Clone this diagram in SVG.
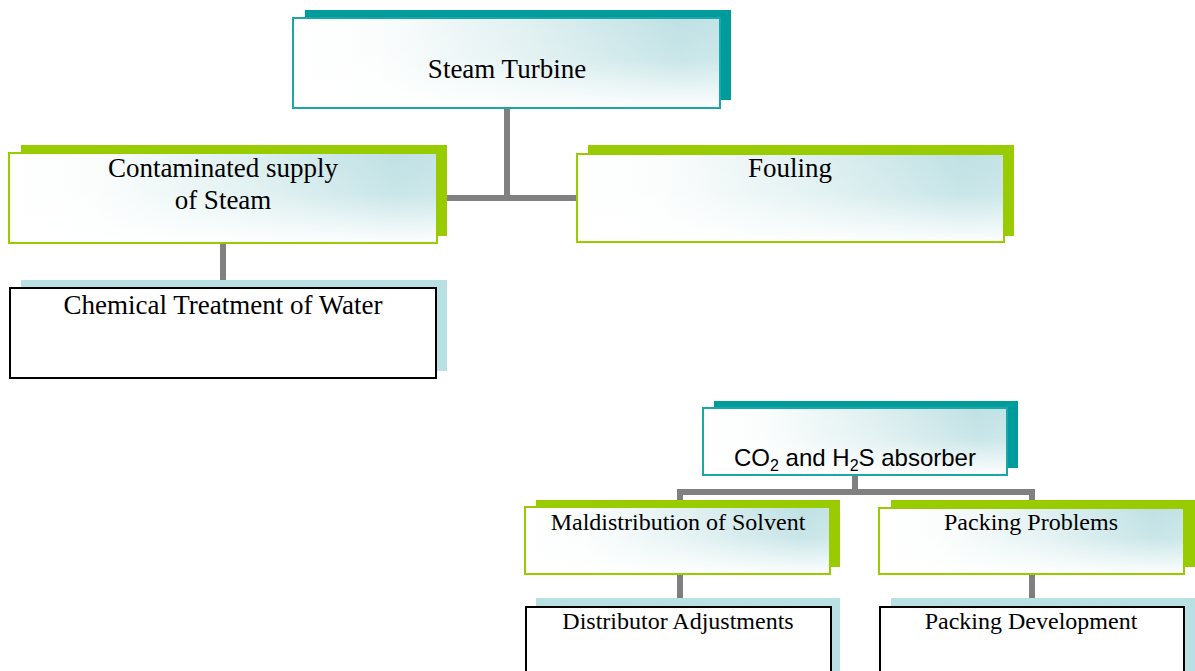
<svg xmlns="http://www.w3.org/2000/svg" width="1195" height="671" viewBox="0 0 1195 671">
  <defs>
    <!-- card fill: white on the left, pale teal toward the right -->
    <linearGradient id="tint" x1="0" y1="0" x2="1" y2="0">
      <stop offset="0" stop-color="#ffffff"/>
      <stop offset="0.2" stop-color="#fbfdfd"/>
      <stop offset="0.55" stop-color="#e0f0f1"/>
      <stop offset="0.9" stop-color="#bfe1e4"/>
      <stop offset="1" stop-color="#c4e3e6"/>
    </linearGradient>
    <!-- white wash that fades the lower part of each card -->
    <linearGradient id="wash" x1="0" y1="0" x2="0" y2="1">
      <stop offset="0" stop-color="#ffffff" stop-opacity="0"/>
      <stop offset="0.45" stop-color="#ffffff" stop-opacity="0.15"/>
      <stop offset="1" stop-color="#ffffff" stop-opacity="0.97"/>
    </linearGradient>
  </defs>
  <style>
    .bg { fill: #ffffff; }
    .sh-teal { fill: #009b9b; }
    .sh-green { fill: #99cc00; }
    .sh-blue { fill: #b9e0e3; }
    .tint { fill: url(#tint); }
    .wash { fill: url(#wash); }
    .edge-teal { fill: none; stroke: #1aa7a7; stroke-width: 2; }
    .edge-green { fill: none; stroke: #99cc00; stroke-width: 2; }
    .card-plain { fill: #ffffff; stroke: #000000; stroke-width: 2; }
    .serif { font-family: "Liberation Serif", "Times New Roman", serif; fill: #000000; text-anchor: middle; }
    .big { font-size: 27px; }
    .small { font-size: 24px; }
    .sans { font-family: "Liberation Sans", Arial, sans-serif; font-size: 24px; fill: #000000; text-anchor: middle; }
    .link { fill: none; stroke: #808080; stroke-width: 6; }
  </style>
  <rect class="bg" x="0" y="0" width="1195" height="671"/>

  <!-- connectors -->
  <g id="connectors">
    <path class="link" d="M507 108 V198 M437 198 H577"/>
    <path class="link" d="M223 243 V281"/>
    <path class="link" d="M855 475 V492 M680 500 V492 H1032 V500"/>
    <path class="link" d="M680 574 V599"/>
    <path class="link" d="M1032 574 V599"/>
  </g>

  <g id="steam-turbine">
    <rect class="sh-teal" x="305" y="10" width="426" height="90"/>
    <rect class="tint" x="293" y="18" width="427" height="90"/>
    <rect class="wash" x="293" y="18" width="427" height="90"/>
    <rect class="edge-teal" x="293" y="18" width="427" height="90"/>
    <text class="serif big" x="507" y="78">Steam Turbine</text>
  </g>

  <g id="contaminated-steam">
    <rect class="sh-green" x="21" y="145" width="426" height="91"/>
    <rect class="tint" x="9" y="153" width="428" height="90"/>
    <rect class="wash" x="9" y="153" width="428" height="90"/>
    <rect class="edge-green" x="9" y="153" width="428" height="90"/>
    <text class="serif big" x="223" y="177">Contaminated supply</text>
    <text class="serif big" x="223" y="209">of Steam</text>
  </g>

  <g id="fouling">
    <rect class="sh-green" x="588" y="145" width="426" height="91"/>
    <rect class="tint" x="577" y="154" width="427" height="88"/>
    <rect class="wash" x="577" y="154" width="427" height="88"/>
    <rect class="edge-green" x="577" y="154" width="427" height="88"/>
    <text class="serif big" x="790" y="177">Fouling</text>
  </g>

  <g id="chemical-treatment">
    <rect class="sh-blue" x="21" y="280" width="426" height="91"/>
    <rect class="card-plain" x="10" y="288" width="426" height="90"/>
    <text class="serif big" x="223" y="314">Chemical Treatment of Water</text>
  </g>

  <g id="absorber">
    <rect class="sh-teal" x="714" y="401" width="304" height="67"/>
    <rect class="tint" x="703" y="408" width="304" height="67"/>
    <rect class="wash" x="703" y="408" width="304" height="67"/>
    <rect class="edge-teal" x="703" y="408" width="304" height="67"/>
    <text class="sans" x="855" y="466">CO<tspan font-size="16" dy="5">2</tspan><tspan dy="-5"> and H</tspan><tspan font-size="16" dy="5">2</tspan><tspan dy="-5">S absorber</tspan></text>
  </g>

  <g id="maldistribution">
    <rect class="sh-green" x="536" y="500" width="304" height="67"/>
    <rect class="tint" x="525" y="507" width="305" height="67"/>
    <rect class="wash" x="525" y="507" width="305" height="67"/>
    <rect class="edge-green" x="525" y="507" width="305" height="67"/>
    <text class="serif small" x="678" y="530">Maldistribution of Solvent</text>
  </g>

  <g id="packing-problems">
    <rect class="sh-green" x="891" y="500" width="310" height="67"/>
    <rect class="tint" x="879" y="508" width="305" height="66"/>
    <rect class="wash" x="879" y="508" width="305" height="66"/>
    <rect class="edge-green" x="879" y="508" width="305" height="66"/>
    <text class="serif small" x="1031" y="530">Packing Problems</text>
  </g>

  <g id="distributor-adjustments">
    <rect class="sh-blue" x="536" y="598" width="304" height="80"/>
    <rect class="card-plain" x="526" y="607" width="305" height="70"/>
    <text class="serif small" x="678" y="629">Distributor Adjustments</text>
  </g>

  <g id="packing-development">
    <rect class="sh-blue" x="891" y="598" width="310" height="80"/>
    <rect class="card-plain" x="880" y="607" width="304" height="70"/>
    <text class="serif small" x="1031" y="629">Packing Development</text>
  </g>
</svg>
